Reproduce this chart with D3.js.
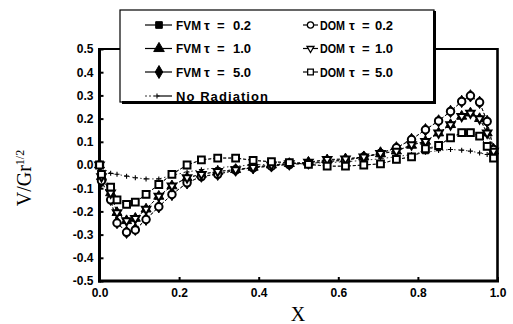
<!DOCTYPE html>
<html>
<head>
<meta charset="utf-8">
<script src="https://cdn.jsdelivr.net/npm/d3@7"></script>
<style>
  body { margin: 0; background: #fff; }
  svg { display: block; }
  .tick text { font-family: "Liberation Sans", Arial, sans-serif; font-weight: bold; font-size: 12px; fill: #000; }
</style>
</head>
<body>
<div id="chart"></div>
<script>
// grid points along X
const xPos = [0, 0.005, 0.028, 0.044, 0.068, 0.09, 0.117, 0.149, 0.182, 0.22, 0.256, 0.297, 0.342, 0.386,
  0.432, 0.477, 0.525, 0.572, 0.618, 0.664, 0.706, 0.746, 0.784, 0.819, 0.852, 0.882, 0.91, 0.932, 0.955, 0.974, 0.99];

const fvm02 = [0, -0.04, -0.095, -0.15, -0.17, -0.16, -0.127, -0.084, -0.04, 0.0, 0.022, 0.03, 0.03, 0.02,
  0.014, 0.01, 0.003, -0.005, -0.005, 0.0, 0.005, 0.024, 0.035, 0.062, 0.084, 0.117, 0.14, 0.14, 0.124, 0.08, 0.03];
const fvm10 = [0, -0.05, -0.12, -0.205, -0.24, -0.23, -0.19, -0.135, -0.09, -0.055, -0.04, -0.028, -0.02, -0.01,
  0.0, 0.006, 0.012, 0.022, 0.026, 0.035, 0.048, 0.06, 0.085, 0.102, 0.138, 0.174, 0.21, 0.224, 0.2, 0.138, 0.06];
const fvm50 = [0, -0.07, -0.148, -0.248, -0.29, -0.277, -0.234, -0.18, -0.127, -0.077, -0.048, -0.04, -0.022, -0.012,
  -0.004, 0.004, 0.008, 0.016, 0.022, 0.034, 0.052, 0.074, 0.11, 0.152, 0.19, 0.231, 0.274, 0.298, 0.27, 0.188, 0.067];

const dom02 = [0, -0.068, -0.15, -0.25, -0.29, -0.28, -0.235, -0.18, -0.127, -0.077, -0.05, -0.04, -0.022, -0.012,
  -0.005, 0.002, 0.006, 0.014, 0.02, 0.034, 0.05, 0.074, 0.11, 0.152, 0.19, 0.231, 0.274, 0.298, 0.27, 0.188, 0.067];
const dom10 = [0, -0.05, -0.12, -0.205, -0.24, -0.23, -0.19, -0.134, -0.09, -0.055, -0.04, -0.028, -0.02, -0.01,
  0.0, 0.006, 0.012, 0.024, 0.026, 0.035, 0.05, 0.06, 0.088, 0.102, 0.138, 0.174, 0.21, 0.224, 0.2, 0.138, 0.06];
const dom50 = [0, -0.04, -0.095, -0.15, -0.17, -0.16, -0.127, -0.084, -0.04, 0.0, 0.022, 0.03, 0.03, 0.02,
  0.014, 0.01, 0.003, -0.005, -0.005, 0.0, 0.005, 0.024, 0.035, 0.07, 0.084, 0.117, 0.14, 0.14, 0.124, 0.08, 0.03];

const noRad = [0, -0.01, -0.036, -0.04, -0.048, -0.055, -0.06, -0.06, -0.045, -0.03, -0.02, -0.012, -0.005, 0.0,
  0.003, 0.005, 0.008, 0.01, 0.014, 0.02, 0.027, 0.036, 0.045, 0.055, 0.062, 0.067, 0.064, 0.06, 0.052, 0.045, 0.03];

const xTicks = [0, 0.2, 0.4, 0.6, 0.8, 1.0];
const xTickLabels = ["0.0", "0.2", "0.4", "0.6", "0.8", "1.0"];
const yTicks = [-0.5, -0.4, -0.3, -0.2, -0.1, 0, 0.1, 0.2, 0.3, 0.4, 0.5];
const yTickLabels = ["-0.5", "-0.4", "-0.3", "-0.2", "-0.1", "0.0", "0.1", "0.2", "0.3", "0.4", "0.5"];

const series = [
  { name: "FVM", tau: "0.2", values: fvm02, shape: "square", filled: true },
  { name: "FVM", tau: "1.0", values: fvm10, shape: "triangle", filled: true },
  { name: "FVM", tau: "5.0", values: fvm50, shape: "diamond", filled: true },
  { name: "DOM", tau: "0.2", values: dom02, shape: "circle", filled: false },
  { name: "DOM", tau: "1.0", values: dom10, shape: "triangleDown", filled: false },
  { name: "DOM", tau: "5.0", values: dom50, shape: "square", filled: false }
];

const width = 513, height = 324;
const svg = d3.select("#chart").append("svg")
  .attr("width", width).attr("height", height);

const x = d3.scaleLinear().domain([0, 1]).range([99.5, 497.5]);
const y = d3.scaleLinear().domain([-0.5, 0.5]).range([281, 49]);

function symbolPath(shape, filled, k = 1) {
  const types = {
    square: [d3.symbolSquare, filled ? 40 : 46],
    triangle: [d3.symbolTriangle, 44],
    triangleDown: [d3.symbolTriangle, 30],
    diamond: [d3.symbolDiamond, 44],
    circle: [d3.symbolCircle, 44]
  };
  const t = types[shape];
  return d3.symbol().type(t[0]).size(t[1] * k)();
}

// axes
svg.append("g")
  .attr("transform", `translate(0,${y(-0.5)})`)
  .call(d3.axisBottom(x).tickValues(xTicks).tickSize(-4).tickPadding(7)
    .tickFormat((d, i) => xTickLabels[i]))
  .call(g => g.select(".domain").remove())
  .call(g => g.selectAll(".tick line").attr("stroke-width", 2));

svg.append("g")
  .attr("transform", `translate(${x(0)},0)`)
  .call(d3.axisLeft(y).tickValues(yTicks).tickSize(-4).tickPadding(6)
    .tickFormat((d, i) => yTickLabels[i]))
  .call(g => g.select(".domain").remove())
  .call(g => g.selectAll(".tick line").attr("stroke-width", 2));

// frame
const frame = svg.append("g").attr("stroke", "#000").attr("fill", "none");
frame.append("line").attr("x1", x(0)).attr("x2", x(0)).attr("y1", y(0.5) - 1).attr("y2", y(-0.5) + 1.5).attr("stroke-width", 3);
frame.append("line").attr("x1", x(0) - 1.5).attr("x2", x(1) + 1.5).attr("y1", y(-0.5)).attr("y2", y(-0.5)).attr("stroke-width", 3);
frame.append("line").attr("x1", x(1)).attr("x2", x(1)).attr("y1", y(0.5) - 1).attr("y2", y(-0.5)).attr("stroke-width", 2.6);
frame.append("line").attr("x1", x(0)).attr("x2", x(1)).attr("y1", y(0.5)).attr("y2", y(0.5)).attr("stroke-width", 2);

// data lines
const line = d3.line().x((d, i) => x(xPos[i])).y(d => y(d));
const lines = svg.append("g").attr("fill", "none").attr("stroke", "#000");
series.forEach(s => {
  lines.append("path").attr("d", line(s.values))
    .attr("stroke-width", 0.8).attr("stroke-dasharray", "3,2");
});
lines.append("path").attr("d", line(noRad))
  .attr("stroke-width", 0.8).attr("stroke-dasharray", "1.5,2.5");

// no radiation markers
svg.append("g").selectAll("path")
  .data(noRad).join("path")
  .attr("transform", (d, i) => `translate(${x(xPos[i])},${y(d)})`)
  .attr("d", "M-2.5,0H2.5M0,-2.5V2.5")
  .attr("stroke", "#000").attr("stroke-width", 1.1);

// markers: filled FVM below, open DOM on top
const order = series.filter(s => s.filled).concat(series.filter(s => !s.filled));
order.forEach(s => {
  svg.append("g").selectAll("path")
    .data(s.values).join("path")
    .attr("transform", (d, i) => `translate(${x(xPos[i])},${y(d)})` + (s.shape === "triangleDown" ? " rotate(180)" : ""))
    .attr("d", symbolPath(s.shape, s.filled))
    .attr("fill", s.filled ? "#000" : "#fff")
    .attr("stroke", "#000")
    .attr("stroke-width", s.filled ? 1 : 2);
});

// axis titles
svg.append("text")
  .attr("transform", "translate(31,178) rotate(-90)")
  .attr("text-anchor", "middle")
  .attr("font-family", "'Liberation Serif', 'Times New Roman', serif")
  .attr("font-size", 20)
  .html('V/Gr<tspan dy="-7" font-size="12">1/2</tspan>');

svg.append("text")
  .attr("x", 298).attr("y", 321)
  .attr("text-anchor", "middle")
  .attr("font-family", "'Liberation Serif', 'Times New Roman', serif")
  .attr("font-size", 20)
  .text("X");

// legend
const leg = svg.append("g");
leg.append("rect").attr("x", 120).attr("y", 10).attr("width", 314).attr("height", 92)
  .attr("fill", "#fff").attr("stroke", "#000").attr("stroke-width", 1.2);
leg.append("line").attr("x1", 122).attr("x2", 436).attr("y1", 102.5).attr("y2", 102.5)
  .attr("stroke", "#000").attr("stroke-width", 3);
leg.append("line").attr("x1", 434.5).attr("x2", 434.5).attr("y1", 11).attr("y2", 104)
  .attr("stroke", "#000").attr("stroke-width", 3);

const rowY = [25, 48.5, 72, 96];
const legFont = g => g.attr("font-family", "'Liberation Sans', Arial, sans-serif")
  .attr("font-weight", "bold").attr("font-size", 13).attr("fill", "#000");

series.forEach((s, k) => {
  const col = s.filled ? 0 : 1;
  const ry = rowY[k % 3];
  const x0 = col === 0 ? 145 : 303, x1 = col === 0 ? 172 : 318, mx = col === 0 ? 159 : 310.5;
  const tx = col === 0 ? 176 : 320, tt = col === 0 ? 204 : 349;
  leg.append("line").attr("x1", x0).attr("x2", x1).attr("y1", ry).attr("y2", ry)
    .attr("stroke", "#000").attr("stroke-width", 1.2);
  leg.append("path")
    .attr("transform", `translate(${mx},${ry})` + (s.shape === "triangleDown" ? " rotate(180)" : ""))
    .attr("d", symbolPath(s.shape, s.filled, s.filled ? 1.1 : 0.7))
    .attr("fill", s.filled ? "#000" : "#fff").attr("stroke", "#000")
    .attr("stroke-width", s.filled ? 1 : 1.3);
  leg.append("text").attr("x", tx).attr("y", ry + 4.5).call(legFont)
    .attr("textLength", 25).attr("lengthAdjust", "spacingAndGlyphs").text(s.name);
  leg.append("text").attr("x", tt).attr("y", ry + 4.5).call(legFont).text("τ");
  leg.append("text").attr("x", tt + 13).attr("y", ry + 4.5).call(legFont).text("=");
  leg.append("text").attr("x", tt + (col === 0 ? 29 : 26)).attr("y", ry + 4.5).call(legFont).text(s.tau);
});

leg.append("line").attr("x1", 145).attr("x2", 158).attr("y1", rowY[3]).attr("y2", rowY[3])
  .attr("stroke", "#000").attr("stroke-width", 0.8).attr("stroke-dasharray", "2,2");
leg.append("line").attr("x1", 158).attr("x2", 172).attr("y1", rowY[3]).attr("y2", rowY[3])
  .attr("stroke", "#000").attr("stroke-width", 1.2);
leg.append("path").attr("transform", `translate(157,${rowY[3]})`)
  .attr("d", "M-2.5,0H2.5M0,-2.5V2.5").attr("stroke", "#000").attr("stroke-width", 1.1);
leg.append("text").attr("x", 176).attr("y", rowY[3] + 4.5).call(legFont)
  .attr("textLength", 92).attr("lengthAdjust", "spacing").text("No Radiation");
</script>
</body>
</html>
